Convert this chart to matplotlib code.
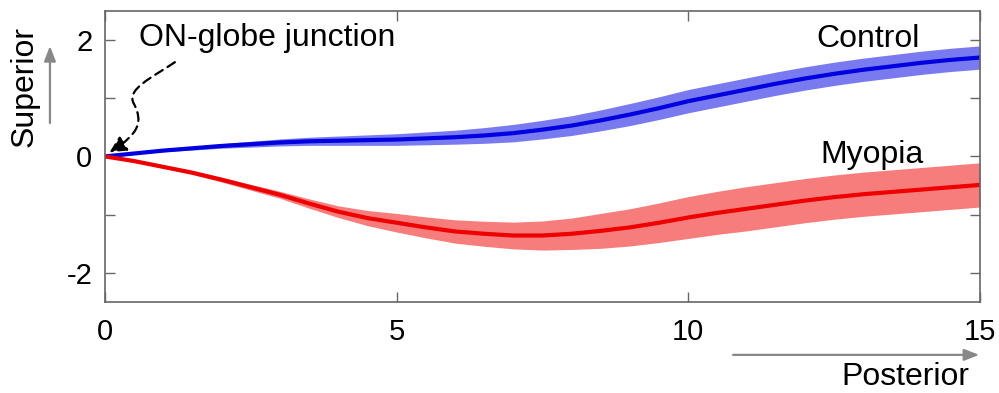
import matplotlib
matplotlib.use("Agg")
import matplotlib.pyplot as plt
from matplotlib.path import Path
from matplotlib.patches import FancyArrowPatch

plt.rcParams['font.family'] = ['Liberation Sans', 'DejaVu Sans']

# distance along the nerve (read every half unit)
pos = [0, 0.5, 1, 1.5, 2, 2.5, 3, 3.5, 4, 4.5, 5, 5.5, 6, 6.5, 7, 7.5,
       8, 8.5, 9, 9.5, 10, 10.5, 11, 11.5, 12, 12.5, 13, 13.5, 14, 14.5, 15]

# Control: mean and half-width of band
control_mean = [0, 0.05, 0.10, 0.14, 0.18, 0.21, 0.24, 0.26, 0.27, 0.28, 0.29, 0.31, 0.33, 0.36, 0.40, 0.46,
                0.53, 0.62, 0.72, 0.83, 0.95, 1.05, 1.15, 1.25, 1.34, 1.42, 1.49, 1.55, 1.61, 1.66, 1.70]
control_err = [0, 0.01, 0.02, 0.03, 0.04, 0.05, 0.06, 0.07, 0.08, 0.09, 0.10, 0.11, 0.12, 0.135, 0.15, 0.16,
               0.17, 0.18, 0.19, 0.195, 0.20, 0.20, 0.20, 0.20, 0.20, 0.20, 0.20, 0.20, 0.20, 0.20, 0.20]

# Myopia: mean and half-width of band
myopia_mean = [0, -0.08, -0.18, -0.28, -0.40, -0.53, -0.66, -0.81, -0.95, -1.06, -1.14, -1.22, -1.29, -1.33, -1.36, -1.36,
               -1.33, -1.28, -1.22, -1.14, -1.05, -0.97, -0.90, -0.83, -0.76, -0.70, -0.65, -0.61, -0.57, -0.53, -0.49]
myopia_err = [0, 0.01, 0.02, 0.03, 0.04, 0.05, 0.06, 0.08, 0.10, 0.13, 0.16, 0.18, 0.20, 0.215, 0.23, 0.25,
              0.27, 0.30, 0.32, 0.34, 0.36, 0.37, 0.38, 0.38, 0.38, 0.38, 0.38, 0.38, 0.38, 0.38, 0.38]

fig = plt.figure(figsize=(9.99, 3.93), dpi=100)
ax = fig.add_axes([0.105, 0.232, 0.876, 0.740])

lo = [m - e for m, e in zip(control_mean, control_err)]
hi = [m + e for m, e in zip(control_mean, control_err)]
ax.fill_between(pos, lo, hi, color="#7a7af0", lw=0)
ax.plot(pos, control_mean, color="#0000e0", lw=3)

lo = [m - e for m, e in zip(myopia_mean, myopia_err)]
hi = [m + e for m, e in zip(myopia_mean, myopia_err)]
ax.fill_between(pos, lo, hi, color="#f77c7c", lw=0)
ax.plot(pos, myopia_mean, color="#ee0000", lw=3)

ax.set_xlim(0, 15)
ax.set_ylim(-2.5, 2.5)
ax.set_xticks([0, 5, 10, 15])
ax.set_yticks([-2, -1, 0, 1, 2])
ax.set_yticklabels(["-2", "", "0", "", "2"])
ax.tick_params(direction="in", length=7, width=1, color="#666666",
               top=True, right=True, labelsize=21)
ax.tick_params(axis="x", pad=12)
ax.tick_params(axis="y", pad=9)
for s in ax.spines.values():
    s.set_color("#666666")
    s.set_linewidth(1.2)

ax.text(13.97, 2.02, "Control", fontsize=23, ha="right", va="center")
ax.text(14.03, 0.02, "Myopia", fontsize=23, ha="right", va="center")
ax.text(0.58, 2.03, "ON-globe junction", fontsize=23, ha="left", va="center")

# dashed wiggly arrow to the origin
verts = [(1.2, 1.62), (0.8, 1.35), (0.35, 1.15), (0.5, 0.9),
         (0.65, 0.6), (0.6, 0.4), (0.08, 0.07)]
codes = [Path.MOVETO, Path.CURVE4, Path.CURVE4, Path.CURVE4,
         Path.CURVE4, Path.CURVE4, Path.CURVE4]
arrow = FancyArrowPatch(path=Path(verts, codes), arrowstyle="-|>,head_length=10,head_width=5",
                        color="black", lw=1.6, linestyle=(0, (4, 2.5)))
ax.add_patch(arrow)

# direction arrows and labels
fig.text(0.025, 0.78, "Superior", fontsize=23, rotation=90, ha="center", va="center")
ax.annotate("", xy=(0.05, 0.89), xytext=(0.05, 0.68), xycoords="figure fraction",
            arrowprops=dict(arrowstyle="-|>,head_length=0.9,head_width=0.35", color="#888888", lw=1.6))
fig.text(0.906, 0.041, "Posterior", fontsize=23, ha="center", va="center")
ax.annotate("", xy=(0.983, 0.097), xytext=(0.731, 0.097), xycoords="figure fraction",
            arrowprops=dict(arrowstyle="-|>,head_length=0.9,head_width=0.35", color="#888888", lw=1.6))

fig.savefig("out.png", dpi=100)
